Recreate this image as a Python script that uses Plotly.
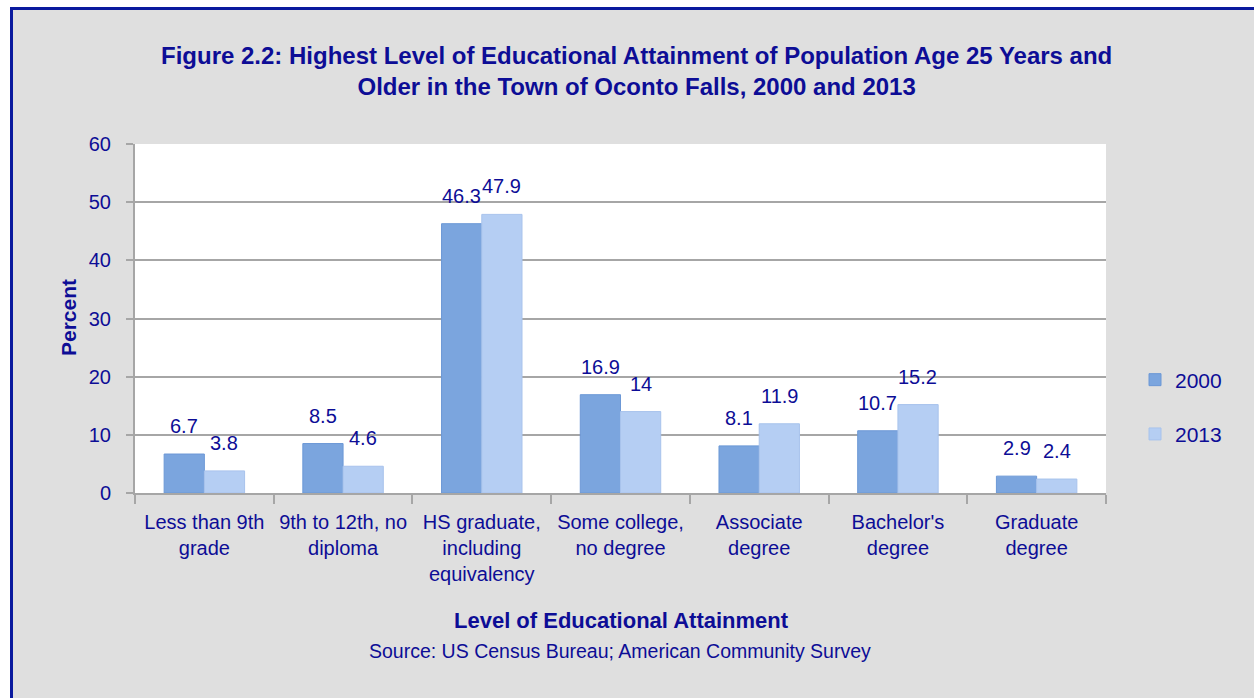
import plotly.graph_objects as go

categories = ["Less than 9th<br>grade", "9th to 12th, no<br>diploma", "HS graduate,<br>including<br>equivalency",
              "Some college,<br>no degree", "Associate<br>degree", "Bachelor's<br>degree", "Graduate<br>degree"]
values_2000 = [6.7, 8.5, 46.3, 16.9, 8.1, 10.7, 2.9]
values_2013 = [3.8, 4.6, 47.9, 14, 11.9, 15.2, 2.4]
series_names = ["2000", "2013"]
y_ticks = [0, 10, 20, 30, 40, 50, 60]

FONT = "Liberation Sans, Arial, sans-serif"
TXT = "#0D0D96"
GRID = "#A6A6A6"

# layout geometry (px)
W, H = 1254, 698
L, R, T, B = 135, 1106, 144, 493
pw, ph = R - L, B - T
def px(x): return (x - L) / pw
def py(y): return (B - y) / ph

fig = go.Figure()
colors = ["#7BA5DE", "#B5CEF3"]
lines = ["#6C98D6", "#A8C3EC"]
for name, vals, c, lc, grp in zip(series_names, [values_2000, values_2013], colors, lines, ["a", "b"]):
    fig.add_trace(go.Bar(
        x=categories, y=vals, name=name, legendgroup=grp,
        marker=dict(color=c, line=dict(color=lc, width=1)),
    ))

# data labels
for i, vals in enumerate([values_2000, values_2013]):
    shift = -20 if i == 0 else 20
    for cat, v in zip(categories, vals):
        fig.add_annotation(x=cat, y=v, xref="x", yref="y", text=f"{v:g}", showarrow=False,
                           xshift=shift, yshift=28, yanchor="middle",
                           font=dict(family=FONT, size=20, color=TXT))

shapes = [
    dict(type="rect", xref="paper", yref="paper", layer="below",
         x0=px(11.5), x1=px(1400), y0=py(8.5), y1=py(900),
         fillcolor="#DFDFDF", line=dict(color="#0A1A9E", width=3)),
    dict(type="rect", xref="paper", yref="paper", layer="below",
         x0=0, x1=1, y0=0, y1=1, fillcolor="white", line=dict(width=0)),
]

annotations = [
    dict(text="Figure 2.2: Highest Level of Educational Attainment of Population Age 25 Years and<br>Older in the Town of Oconto Falls, 2000 and 2013",
         x=px(636), y=py(71), xref="paper", yref="paper", showarrow=False, xanchor="center", yanchor="middle",
         font=dict(family=FONT, size=24, color=TXT, weight="bold")),
    dict(text="Percent", x=px(68), y=py(318), xref="paper", yref="paper", showarrow=False, textangle=-90,
         xanchor="center", yanchor="middle", font=dict(family=FONT, size=21, color=TXT, weight="bold")),
    dict(text="Level of Educational Attainment", x=px(621), y=py(620), xref="paper", yref="paper",
         showarrow=False, xanchor="center", yanchor="middle",
         font=dict(family=FONT, size=22, color=TXT, weight="bold")),
    dict(text="Source: US Census Bureau; American Community Survey", x=px(620), y=py(651), xref="paper",
         yref="paper", showarrow=False, xanchor="center", yanchor="middle",
         font=dict(family=FONT, size=19.5, color=TXT)),
]
for a in annotations:
    fig.add_annotation(**a)

fig.update_layout(
    width=W, height=H,
    margin=dict(l=L, r=W - R, t=T, b=H - B, autoexpand=False),
    paper_bgcolor="white", plot_bgcolor="rgba(0,0,0,0)",
    barmode="group", bargap=0.42, bargroupgap=0,
    shapes=shapes,
    showlegend=True,
    legend=dict(x=px(1135), y=py(407), xanchor="left", yanchor="middle", traceorder="grouped",
                tracegroupgap=24, bgcolor="rgba(0,0,0,0)",
                font=dict(family=FONT, size=21, color=TXT)),
    font=dict(family=FONT, color=TXT),
)
fig.update_xaxes(showline=True, linecolor=GRID, linewidth=2, showgrid=False,
                 ticks="outside", tickson="boundaries", ticklen=9, tickcolor=GRID, tickwidth=2,
                 tickangle=0, ticklabelstandoff=10, tickfont=dict(family=FONT, size=20, color=TXT),
                 fixedrange=True)
fig.update_yaxes(range=[0, 60], tickvals=y_ticks, showline=True, linecolor=GRID, linewidth=2,
                 showgrid=True, gridcolor=GRID, gridwidth=2, zeroline=False,
                 ticks="outside", ticklen=7, tickcolor=GRID, tickwidth=2, ticklabelstandoff=11,
                 tickfont=dict(family=FONT, size=20, color=TXT), fixedrange=True)

fig.write_html("out.html")
